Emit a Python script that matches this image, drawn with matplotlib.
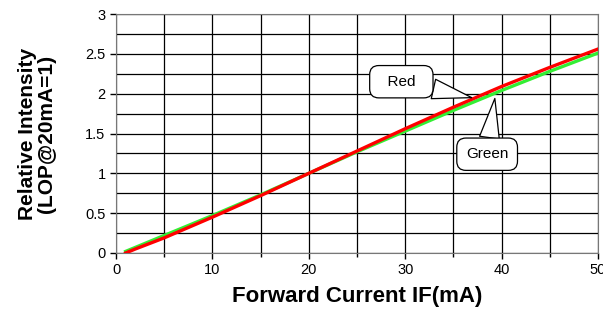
import numpy as np
import matplotlib
matplotlib.use("Agg")
import matplotlib.pyplot as plt

plt.rcParams['font.family'] = ['Liberation Sans', 'DejaVu Sans']

current = [1, 2, 5, 10, 15, 20, 25, 30, 35, 40, 45, 50]
red_lop = [0.0, 0.05, 0.19, 0.45, 0.72, 1.0, 1.28, 1.56, 1.83, 2.09, 2.33, 2.56]
green_lop = [0.02, 0.07, 0.22, 0.47, 0.73, 1.0, 1.27, 1.53, 1.79, 2.04, 2.28, 2.51]

fig = plt.figure(figsize=(6.03, 3.11), dpi=100)
ax = fig.add_axes([116 / 603, 1 - 253 / 311, 482 / 603, 239 / 311])

ax.plot(current, red_lop, color='#ff0000', lw=2.4, zorder=3)
ax.plot(current, green_lop, color='#33ee33', lw=2.4, zorder=2)

ax.set_xlim(0, 50)
ax.set_ylim(0, 3)
ax.set_xticks(np.arange(0, 51, 10))
ax.set_xticks(np.arange(0, 51, 5), minor=True)
ax.set_yticks(np.arange(0, 3.01, 0.5))
ax.set_yticks(np.arange(0, 3.01, 0.25), minor=True)
ax.set_yticklabels(['0', '0.5', '1', '1.5', '2', '2.5', '3'])
ax.grid(True, which='both', color='black', lw=0.9)
ax.tick_params(which='both', direction='out', length=4, width=1, labelsize=10.5, colors='black')
ax.tick_params(axis='x', which='minor', length=3)
ax.tick_params(axis='y', which='minor', length=0)
for s in ax.spines.values():
    s.set_color('#777777')

ax.set_xlabel('Forward Current IF(mA)', fontsize=16, fontweight='bold')
ax.xaxis.set_label_coords(0.5, -0.14)
ax.set_ylabel('Relative Intensity\n(LOP@20mA=1)', fontsize=15, fontweight='bold', va='center',
              linespacing=1.05)
ax.yaxis.set_label_coords(-0.164, 0.5)

box = dict(boxstyle='round,pad=0.6,rounding_size=0.6', fc='white', ec='black', lw=0.9)
wedge = dict(arrowstyle='wedge,tail_width=1.3', fc='white', ec='black', lw=0.9, shrinkA=0, shrinkB=0)
ax.annotate('  Red  ', xy=(36.9, 1.95), xytext=(29.6, 2.15), fontsize=11, ha='center', va='center',
            bbox=box, arrowprops=wedge, zorder=5)
ax.annotate('Green', xy=(39.3, 1.94), xytext=(38.5, 1.24), fontsize=11, ha='center', va='center',
            bbox=box, arrowprops=wedge, zorder=5)

fig.savefig('out.png', dpi=100)
